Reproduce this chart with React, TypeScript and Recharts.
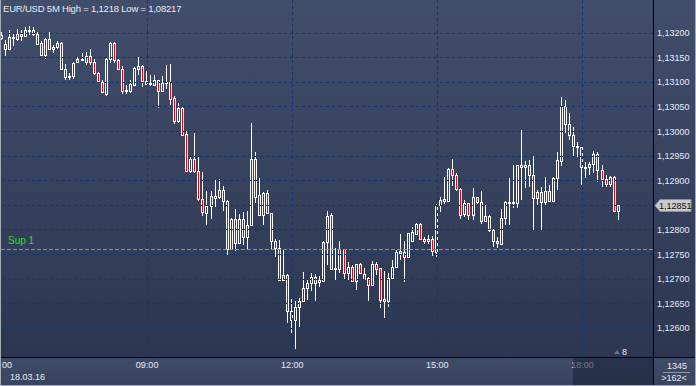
import { ComposedChart, Bar, XAxis, YAxis, ReferenceLine } from 'recharts'

// EUR/USD 5M candles, 06:00 .. 18:45
const OPEN = [
  1.1319, 1.13178, 1.13167, 1.13189, 1.13188, 1.13198, 1.13193, 1.13205, 1.13206, 1.13199,
  1.1318, 1.13156, 1.13187, 1.13167, 1.13172, 1.13179, 1.13126, 1.13112, 1.13113, 1.13141,
  1.13145, 1.13141, 1.13153, 1.13142, 1.13118, 1.131, 1.13077, 1.13147, 1.13179, 1.13145,
  1.13127, 1.13082, 1.13083, 1.13095, 1.13127, 1.13133, 1.13102, 1.13096, 1.13095, 1.13104,
  1.13082, 1.13098, 1.131, 1.13068, 1.13022, 1.13048, 1.12995, 1.12919, 1.12943, 1.12919,
  1.12862, 1.12835, 1.12848, 1.12865, 1.12866, 1.12881, 1.12858, 1.12762, 1.12821, 1.12773,
  1.12821, 1.12786, 1.1281, 1.12943, 1.1287, 1.12831, 1.12874, 1.12834, 1.12777, 1.12764,
  1.12699, 1.12708, 1.12634, 1.12617, 1.12644, 1.12655, 1.12682, 1.12692, 1.12705, 1.12694,
  1.12695, 1.12775, 1.12831, 1.1272, 1.12721, 1.1276, 1.12712, 1.12724, 1.12695, 1.1273,
  1.12701, 1.12702, 1.12688, 1.1273, 1.12722, 1.12656, 1.12656, 1.12703, 1.12725, 1.12753,
  1.12755, 1.12744, 1.12778, 1.12791, 1.12812, 1.12782, 1.12778, 1.12781, 1.12755, 1.12851,
  1.12858, 1.12859, 1.12923, 1.12911, 1.12882, 1.12832, 1.12854, 1.12831, 1.12866, 1.12857,
  1.12817, 1.12829, 1.128, 1.12777, 1.12771, 1.12825, 1.12854, 1.12854, 1.12854, 1.12931,
  1.12927, 1.12931, 1.12911, 1.12864, 1.12877, 1.12857, 1.12879, 1.12859, 1.12905, 1.1294,
  1.13052, 1.13016, 1.12992, 1.1297, 1.12968, 1.12926, 1.12927, 1.12934, 1.12954, 1.12922,
  1.12903, 1.12893, 1.12907, 1.12838,
]
const HIGH = [
  1.13202, 1.13186, 1.13206, 1.13197, 1.13208, 1.13206, 1.13213, 1.13215, 1.13213, 1.13203,
  1.13183, 1.13189, 1.13202, 1.13175, 1.13183, 1.13182, 1.13137, 1.13119, 1.13141, 1.13152,
  1.13159, 1.13161, 1.13167, 1.13147, 1.13121, 1.13104, 1.13152, 1.13182, 1.13181, 1.13148,
  1.13133, 1.13095, 1.13104, 1.1313, 1.13151, 1.13134, 1.13122, 1.13114, 1.13115, 1.13105,
  1.13113, 1.13134, 1.13138, 1.13071, 1.13057, 1.1305, 1.13001, 1.12951, 1.12996, 1.12947,
  1.12917, 1.12878, 1.12878, 1.12901, 1.12903, 1.12889, 1.12861, 1.12825, 1.12842, 1.12832,
  1.12836, 1.12839, 1.13018, 1.12958, 1.12905, 1.12876, 1.12881, 1.12835, 1.12782, 1.12779,
  1.12759, 1.1271, 1.12659, 1.12655, 1.12661, 1.12714, 1.12698, 1.12712, 1.1271, 1.12706,
  1.12777, 1.12838, 1.12835, 1.12764, 1.12777, 1.12761, 1.12735, 1.12729, 1.12731, 1.12732,
  1.12722, 1.12705, 1.12737, 1.12735, 1.12723, 1.12716, 1.12712, 1.12739, 1.12759, 1.12791,
  1.12778, 1.12794, 1.12805, 1.12814, 1.12814, 1.12786, 1.1279, 1.12787, 1.12852, 1.12866,
  1.12907, 1.12926, 1.12943, 1.12915, 1.12885, 1.12861, 1.12855, 1.12886, 1.12867, 1.12879,
  1.1285, 1.12831, 1.12801, 1.12786, 1.12842, 1.12858, 1.12905, 1.12932, 1.12932, 1.13003,
  1.12939, 1.12942, 1.12951, 1.12881, 1.12887, 1.12908, 1.12891, 1.12908, 1.12959, 1.13069,
  1.13064, 1.13037, 1.13008, 1.12978, 1.12969, 1.12938, 1.12938, 1.12961, 1.12959, 1.12932,
  1.12911, 1.12909, 1.12909, 1.12851,
]
const LOW = [
  1.13186, 1.13153, 1.13165, 1.13174, 1.13184, 1.13184, 1.13192, 1.13196, 1.13194, 1.13175,
  1.13155, 1.13148, 1.13167, 1.13159, 1.13168, 1.13125, 1.13104, 1.13104, 1.13107, 1.1314,
  1.13144, 1.13136, 1.13134, 1.13115, 1.13098, 1.13079, 1.13071, 1.1314, 1.1314, 1.13126,
  1.13077, 1.13077, 1.13079, 1.13094, 1.13114, 1.13091, 1.13094, 1.13092, 1.13092, 1.13048,
  1.1308, 1.13087, 1.13053, 1.13015, 1.13018, 1.12991, 1.12917, 1.12915, 1.12916, 1.12859,
  1.12828, 1.1281, 1.12821, 1.12847, 1.12862, 1.12839, 1.12749, 1.12758, 1.12756, 1.12771,
  1.1277, 1.12762, 1.12808, 1.12855, 1.12829, 1.1281, 1.12832, 1.12762, 1.12745, 1.12698,
  1.12698, 1.1261, 1.12591, 1.12558, 1.12603, 1.12653, 1.12657, 1.12676, 1.12655, 1.12684,
  1.12694, 1.12728, 1.1272, 1.12699, 1.12712, 1.12698, 1.12698, 1.12694, 1.12678, 1.1271,
  1.127, 1.12656, 1.12687, 1.12708, 1.12641, 1.12621, 1.12644, 1.12702, 1.12724, 1.12739,
  1.12694, 1.12743, 1.12775, 1.1279, 1.12779, 1.12771, 1.12771, 1.12747, 1.12745, 1.12836,
  1.12852, 1.12858, 1.1289, 1.12879, 1.12823, 1.12827, 1.1282, 1.1282, 1.12852, 1.12812,
  1.12816, 1.12796, 1.12766, 1.12763, 1.1277, 1.12809, 1.1281, 1.12844, 1.12844, 1.12861,
  1.12885, 1.12888, 1.128, 1.1285, 1.128, 1.1285, 1.12858, 1.12858, 1.12881, 1.1293,
  1.12997, 1.12983, 1.12949, 1.12949, 1.12891, 1.12905, 1.12911, 1.12915, 1.12898, 1.12888,
  1.12888, 1.12888, 1.12837, 1.12819,
]
const CLOSE = [
  1.13196, 1.13167, 1.13192, 1.13192, 1.13198, 1.13193, 1.13207, 1.13207, 1.13199, 1.13178,
  1.13156, 1.13187, 1.13168, 1.13172, 1.13179, 1.13126, 1.13111, 1.13113, 1.1314, 1.13148,
  1.13148, 1.13153, 1.13142, 1.13118, 1.13102, 1.1308, 1.13147, 1.13179, 1.13145, 1.13127,
  1.13083, 1.13084, 1.13096, 1.13129, 1.13133, 1.13102, 1.13096, 1.13099, 1.13104, 1.13083,
  1.13098, 1.131, 1.13065, 1.13022, 1.13048, 1.12993, 1.12919, 1.12943, 1.12919, 1.12862,
  1.12836, 1.12848, 1.12869, 1.12869, 1.12881, 1.12858, 1.12762, 1.12821, 1.12773, 1.12821,
  1.12786, 1.1281, 1.12943, 1.12867, 1.12831, 1.12874, 1.12834, 1.12777, 1.12764, 1.12699,
  1.12708, 1.12634, 1.12617, 1.12644, 1.12655, 1.12682, 1.12692, 1.12705, 1.12692, 1.12697,
  1.12775, 1.12829, 1.12721, 1.12722, 1.1276, 1.12712, 1.12724, 1.12695, 1.1273, 1.12712,
  1.1271, 1.12688, 1.1273, 1.12721, 1.12657, 1.12659, 1.12703, 1.12725, 1.12755, 1.12756,
  1.12744, 1.12793, 1.12796, 1.12812, 1.12782, 1.12777, 1.12782, 1.12756, 1.12851, 1.12861,
  1.12862, 1.12923, 1.12911, 1.12882, 1.12831, 1.12854, 1.12831, 1.12866, 1.12857, 1.12817,
  1.12829, 1.128, 1.12777, 1.12773, 1.12825, 1.12857, 1.12857, 1.12857, 1.12931, 1.12927,
  1.12931, 1.12911, 1.12864, 1.12877, 1.12857, 1.12879, 1.12859, 1.12905, 1.12942, 1.13052,
  1.13016, 1.12992, 1.1297, 1.12968, 1.12927, 1.12928, 1.12934, 1.12954, 1.12922, 1.12903,
  1.12893, 1.12907, 1.12838, 1.12851,
]

const FIRST_MINUTE = 6 * 60
const BAR_MINUTES = 5
const EMPTY_BARS = 8
const TIME_TICKS = ['06:00', '09:00', '12:00', '15:00', '18:00']
const GRID_TIMES = ['09:00', '12:00', '15:00', '18:00']
const PRICE_TICKS = [
  1.126, 1.1265, 1.127, 1.1275, 1.128, 1.1285, 1.129, 1.1295, 1.13, 1.1305, 1.131, 1.1315, 1.132,
]
const PRICE_DOMAIN = [1.125415, 1.132671]
const SUPPORT = 1.1276
const LAST_PRICE = CLOSE[CLOSE.length - 1]
const DATE_LABEL = '18.03.16'
const TITLE = 'EUR/USD 5M High = 1,1218 Low = 1,08217'

const FONT = '"Liberation Sans", Arial, sans-serif'
const TEXT = '#e6ebf4'
const GRID = '#1a3668'
const GREEN = '#22e022'
const BEAR = '#f00000'

const pad = (n: number) => String(n).padStart(2, '0')
const timeLabel = (m: number) => `${pad(Math.floor(m / 60))}:${pad(m % 60)}`
const fmtPrice = (v: number) => v.toFixed(5).replace('.', ',')

const data = Array.from({ length: OPEN.length + EMPTY_BARS }, (_, i) => {
  const has = i < OPEN.length
  return {
    time: timeLabel(FIRST_MINUTE + i * BAR_MINUTES),
    range: has ? [LOW[i], HIGH[i]] : null,
    open: has ? OPEN[i] : null,
    high: has ? HIGH[i] : null,
    low: has ? LOW[i] : null,
    close: has ? CLOSE[i] : null,
  }
})

function Candle(props: any) {
  const { x, y, width, height, payload } = props
  if (!payload || payload.range == null) return null
  const { open, close, high, low } = payload
  const top = Math.min(y, y + height)
  const h = Math.abs(height)
  const k = h / (high - low)
  const px = Math.round(x + width / 2)
  const yO = top + (high - open) * k
  const yC = top + (high - close) * k
  const bTop = Math.round(Math.min(yO, yC))
  const bBot = Math.max(Math.round(Math.max(yO, yC)), bTop + 1)
  const yHi = Math.round(top)
  const yLo = Math.round(top + h)
  const bear = close < open
  const wx = px - 0.5
  return (
    <g shapeRendering="crispEdges">
      {yHi < bTop && <line x1={wx} x2={wx} y1={yHi} y2={bTop} stroke="#fff" />}
      {yLo > bBot && <line x1={wx} x2={wx} y1={bBot} y2={yLo} stroke="#fff" />}
      <rect
        x={px - 1.5}
        y={bTop + 0.5}
        width={2}
        height={bBot - bTop}
        fill={bear ? BEAR : 'none'}
        stroke="#fff"
        strokeWidth={1}
      />
    </g>
  )
}

function TimeTick(props: any) {
  const { x, y, payload, index } = props
  // the first session label is cut by the left edge in the original: only its minutes show
  const first = index === 0
  return (
    <g>
      <text
        x={first ? 2 : x}
        y={y}
        dy="0.71em"
        textAnchor={first ? 'start' : 'middle'}
        fill={TEXT}
        fontSize={9}
        fontFamily={FONT}
      >
        {first ? String(payload.value).slice(3) : payload.value}
      </text>
      {first && (
        <text x={x + 8} y={y} dy={18} textAnchor="start" fill={TEXT} fontSize={9} fontFamily={FONT}>
          {DATE_LABEL}
        </text>
      )}
    </g>
  )
}

function PriceTag(props: any) {
  const { viewBox } = props
  if (!viewBox) return null
  const x0 = viewBox.x + viewBox.width
  const y = Math.round(viewBox.y) + 0.5
  return (
    <g>
      <polygon
        points={`${x0 + 2},${y} ${x0 + 7},${y - 6} ${x0 + 38},${y - 6} ${x0 + 38},${y + 6} ${x0 + 7},${y + 6}`}
        fill="#c9cacc"
        stroke="#8c8f96"
      />
      <text x={x0 + 6} y={y} dy="0.36em" fill="#111" fontSize={9} fontFamily={FONT}>
        {fmtPrice(LAST_PRICE)}
      </text>
    </g>
  )
}

function SupLabel(props: any) {
  const { viewBox } = props
  if (!viewBox) return null
  return (
    <text x={viewBox.x + 8} y={viewBox.y - 5} fill={GREEN} fontSize={10} fontFamily={FONT}>
      Sup 1
    </text>
  )
}

export default function App() {
  return (
    <div style={{ position: 'absolute', left: 0, top: 0, width: 696, height: 386, overflow: 'hidden' }}>
      <div
        style={{
          position: 'absolute', left: 0, top: 0, width: 696, height: 357,
          background: 'linear-gradient(to bottom, #414e6b, #2c3651)',
        }}
      />
      <div
        style={{
          position: 'absolute', left: 0, top: 357, width: 696, height: 29,
          background: 'linear-gradient(to bottom, #3f4c69, #37435f)',
        }}
      />
      <div style={{ position: 'absolute', left: 0, top: 0 }}>
        <ComposedChart width={696} height={386} data={data} margin={{ top: 0, right: 0, bottom: 0, left: 0 }}>
          <XAxis
            dataKey="time"
            ticks={TIME_TICKS}
            interval={0}
            height={29}
            tickLine={false}
            axisLine={false}
            tickSize={0}
            tickMargin={5}
            tick={<TimeTick />}
          />
          <YAxis
            orientation="right"
            width={43}
            domain={PRICE_DOMAIN}
            allowDataOverflow
            ticks={PRICE_TICKS}
            tickLine={false}
            axisLine={false}
            tickSize={0}
            tickMargin={4}
            tickFormatter={(v: number) => (Math.abs(v - LAST_PRICE) < 0.0002 ? '' : fmtPrice(v))}
            tick={{ fill: TEXT, fontSize: 9, fontFamily: FONT }}
          />
          {PRICE_TICKS.map((p) => (
            <ReferenceLine key={p} y={p} stroke={GRID} strokeDasharray="3 3" shapeRendering="crispEdges" />
          ))}
          {GRID_TIMES.map((t) => (
            <ReferenceLine key={t} x={t} stroke={GRID} strokeDasharray="3 3" shapeRendering="crispEdges" />
          ))}
          <ReferenceLine
            y={SUPPORT}
            stroke={GREEN}
            strokeDasharray="4 2"
            shapeRendering="crispEdges"
            label={<SupLabel />}
          />
          <Bar dataKey="range" shape={<Candle />} isAnimationActive={false} />
          <ReferenceLine y={LAST_PRICE} stroke="none" label={<PriceTag />} />
        </ComposedChart>
      </div>
      <svg
        width={696}
        height={386}
        style={{ position: 'absolute', left: 0, top: 0, pointerEvents: 'none' }}
      >
        <rect x={573} y={358} width={80} height={28} fill="#1b2338" fillOpacity={0.6} />
        <line x1={653.5} x2={653.5} y1={0} y2={386} stroke="#000" />
        <line x1={0} x2={696} y1={357.5} y2={357.5} stroke="#000" />
        <line x1={0.5} x2={0.5} y1={0} y2={386} stroke="#a3abbb" />
        <line x1={695.5} x2={695.5} y1={0} y2={386} stroke="#a3abbb" />
        <line x1={0} x2={696} y1={385.5} y2={385.5} stroke="#a3abbb" />
        <text x={3} y={12} fill={TEXT} fontSize={9.5} letterSpacing={-0.2} fontFamily={FONT}>
          {TITLE}
        </text>
        <polygon points="614,354 617,350 620,354" fill="#6c7588" />
        <text x={622} y={355} fill={TEXT} fontSize={9} fontFamily={FONT}>
          8
        </text>
        <text x={677} y={369} textAnchor="middle" fill={TEXT} fontSize={9} fontFamily={FONT}>
          1345
        </text>
        <line x1={663} x2={690} y1={372.5} y2={372.5} stroke="#8e97aa" />
        <text x={674} y={381} textAnchor="middle" fill={TEXT} fontSize={9} fontFamily={FONT}>
          {'>162<'}
        </text>
      </svg>
    </div>
  )
}
